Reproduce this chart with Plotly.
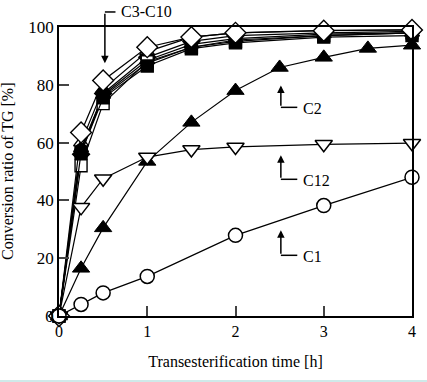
import plotly.graph_objects as go

# ---- data ----
t_std = [0, 0.25, 0.5, 1, 1.5, 2, 3, 4]
t_c2 = [0, 0.25, 0.5, 1, 1.5, 2, 2.5, 3, 3.5, 4]

c1_t = [0, 0.25, 0.5, 1, 2, 3, 4]
c1_v = [0, 4, 8, 13.7, 27.9, 38.2, 48]
c2_v = [0, 16.5, 30.5, 53.5, 67, 78, 86, 89.5, 92.6, 93.7]
c12_v = [0, 37.6, 47.5, 55, 57.6, 58.5, 59.4, 59.8]

# C3-C10 group
grp_names = ["C3", "C4", "C5", "C6", "C8", "C10", "C7"]
grp_vals = [
    [0, 63.5, 81.5, 93, 96.5, 98, 98.7, 99],   # open diamond
    [0, 52, 73.5, 88, 93, 95, 97, 98],         # open square
    [0, 56.5, 75.5, 86.5, 92.5, 94.5, 96.5, 97],  # filled square
    [0, 57.5, 76, 87.5, 93, 95.5, 97, 98],     # filled circle
    [0, 58, 76.5, 88.5, 94, 96, 97.5, 98],     # filled triangle
    [0, 56, 77, 89.5, 95, 97, 98, 98.5],       # filled diamond
    [0, 60, 78.5, 91.5, 96.5, 98, 98.8, 99],   # open triangle
]
grp_symbols = ["diamond", "square", "square", "circle", "triangle-up", "diamond", "triangle-up"]
grp_fill = ["white", "white", "black", "black", "black", "black", "white"]
grp_size = [16, 12, 12, 12, 13, 13, 13]

xticks = [0, 1, 2, 3, 4]
yticks = [0, 20, 40, 60, 80, 100]

FONT = "Liberation Serif"

fig = go.Figure()

order = [6, 5, 3, 4, 1, 2, 0]
for i in order:
    fig.add_trace(go.Scatter(
        x=t_std, y=grp_vals[i], name=grp_names[i], mode="lines+markers",
        line=dict(color="black", width=1.2),
        marker=dict(symbol=grp_symbols[i], size=grp_size[i], color=grp_fill[i],
                    line=dict(color="black", width=1.4)),
        cliponaxis=False))

fig.add_trace(go.Scatter(
    x=t_c2, y=c2_v, name="C2", mode="lines+markers",
    line=dict(color="black", width=1.2),
    marker=dict(symbol="triangle-up", size=15, color="black", line=dict(color="black", width=1)),
    cliponaxis=False))
fig.add_trace(go.Scatter(
    x=t_std, y=c12_v, name="C12", mode="lines+markers",
    line=dict(color="black", width=1.2),
    marker=dict(symbol="triangle-down", size=15, color="white", line=dict(color="black", width=1.5)),
    cliponaxis=False))
fig.add_trace(go.Scatter(
    x=c1_t, y=c1_v, name="C1", mode="lines+markers",
    line=dict(color="black", width=1.2),
    marker=dict(symbol="circle", size=14, color="white", line=dict(color="black", width=1.5)),
    cliponaxis=False))

# label callouts: (vertical x, arrow tip y, corner y, horizontal end x, text x, text y, text)
callouts = [
    (2.514, 79.8, 72.2, 2.70, 2.74, 71.8, "C2"),
    (2.514, 55.6, 47.3, 2.70, 2.74, 46.8, "C12"),
    (2.514, 29.7, 21.0, 2.70, 2.74, 20.5, "C1"),
]
for vx, tip, corner, hx, tx, ty, txt in callouts:
    fig.add_annotation(x=vx, y=tip, ax=vx, ay=corner, xref="x", yref="y", axref="x", ayref="y",
                       showarrow=True, arrowhead=2, arrowsize=1, arrowwidth=1.5, arrowcolor="black",
                       text="")
    fig.add_shape(type="line", x0=vx, y0=corner, x1=hx, y1=corner,
                  line=dict(color="black", width=1.5))
    fig.add_annotation(x=tx, y=ty, xref="x", yref="y", text=txt, showarrow=False,
                       xanchor="left", yanchor="middle", font=dict(family=FONT, size=16, color="black"))

# C3-C10 callout (pointing down), above the plot area -> paper coords
fig.add_annotation(x=0.130, y=0.875, xref="paper", yref="paper", ax=0, ay=-51,
                   showarrow=True, arrowhead=2, arrowsize=1, arrowwidth=1.5, arrowcolor="black", text="")
fig.add_shape(type="line", xref="paper", yref="paper", x0=0.130, y0=1.052, x1=0.160, y1=1.052,
              line=dict(color="black", width=1.5))
fig.add_annotation(x=0.170, y=1.052, xref="paper", yref="paper", text="C3-C10", showarrow=False,
                   xanchor="left", yanchor="middle", font=dict(family=FONT, size=16, color="black"))

# y-axis title
fig.add_annotation(x=-0.146, y=0.5, xref="paper", yref="paper", text="Conversion ratio of TG [%]",
                   textangle=-90, showarrow=False, xanchor="center", yanchor="middle",
                   font=dict(family=FONT, size=16, color="black"))

# faint bottom rule
fig.add_shape(type="line", xref="paper", yref="paper", x0=-0.2, x1=1.1, y0=-0.225, y1=-0.225,
              line=dict(color="#cfe9e9", width=2))

fig.update_layout(
    width=427, height=382,
    margin=dict(l=59, r=15, t=27, b=66),
    paper_bgcolor="white", plot_bgcolor="white",
    showlegend=False,
    font=dict(family=FONT, size=16, color="black"),
)
fig.update_xaxes(range=[0, 4], tickvals=xticks, ticks="inside", ticklen=10, tickwidth=1.5,
                 showline=True, linecolor="black", linewidth=1.5, mirror=True, showgrid=False,
                 zeroline=False, tickfont=dict(family=FONT, size=16),
                 title=dict(text="Transesterification time [h]", font=dict(family=FONT, size=16), standoff=17))
fig.update_yaxes(range=[0, 100], tickvals=yticks, ticks="inside", ticklen=10, tickwidth=1.5,
                 showline=True, linecolor="black", linewidth=1.5, mirror=True, showgrid=False,
                 zeroline=False, tickfont=dict(family=FONT, size=17))

fig.write_html("out.html")
